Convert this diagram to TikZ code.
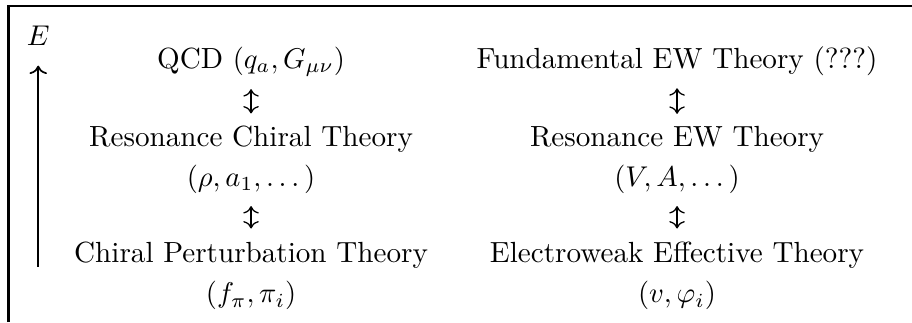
\documentclass[tikz,border=0pt]{standalone}
\usepackage{amsmath}
\usepackage{amssymb}
\usepackage{tikz}
\usetikzlibrary{arrows.meta, positioning}

\begin{document}
\begin{tikzpicture}[
    level/.style={anchor=base, font=\fontsize{10.2}{12}\selectfont, align=center},
    updown/.style={{Computer Modern Rightarrow}-{Computer Modern Rightarrow},
                   line width=0.45pt, shorten >=1pt, shorten <=1pt},
  ]
  \useasboundingbox (0,0) rectangle (11.218,3.961);

  % Frame (only top and left edges visible)
  \draw[line width=1pt] (0.105,0) -- (0.105,3.887) -- (11.218,3.887);

  % Energy axis
  \node[font=\fontsize{10.2}{12}\selectfont] (elab) at (0.47,3.52) {$E$};
  \coordinate (ebot) at (0.47,0.677);
  \draw[-{Computer Modern Rightarrow}, line width=0.6pt, shorten >=3.5pt] (ebot) -- (elab);

  % Strong sector
  \node[level] (qcd)   at (3.088,3.124) {QCD $(q_a, G_{\mu\nu})$};
  \node[level] (rct)   at (3.088,2.153) {Resonance Chiral Theory};
  \node[level] (rctf)  at (3.088,1.673) {$(\rho, a_1, \dots)$};
  \node[level] (chpt)  at (3.088,0.738) {Chiral Perturbation Theory};
  \node[level] (chptf) at (3.088,0.234) {$(f_\pi, \pi_i)$};
  \draw[updown] (qcd) -- (rct);
  \draw[updown] (rctf) -- (chpt);

  % Electroweak sector
  \node[level] (few)   at (8.328,3.124) {Fundamental EW Theory (???)};
  \node[level] (rew)   at (8.328,2.153) {Resonance EW Theory};
  \node[level] (rewf)  at (8.328,1.673) {$(V, A, \dots)$};
  \node[level] (ewet)  at (8.328,0.738) {Electroweak Effective Theory};
  \node[level] (ewetf) at (8.328,0.234) {$(v, \varphi_i)$};
  \draw[updown] (few) -- (rew);
  \draw[updown] (rewf) -- (ewet);
\end{tikzpicture}
\end{document}
